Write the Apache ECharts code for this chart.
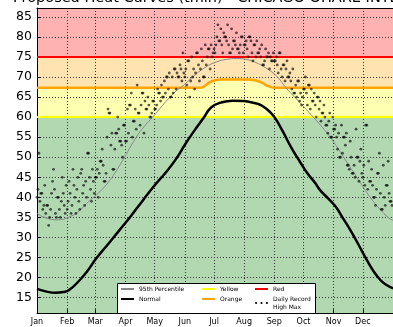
<!DOCTYPE html>
<html><head><meta charset="utf-8">
<script src="https://cdn.jsdelivr.net/npm/echarts@6/dist/echarts.min.js"></script>
<style>html,body{margin:0;padding:0;background:#fff}#c{width:393px;height:327px}</style>
</head><body><div id="c"></div>
<script>
// ---- data ----
const titleText = 'Proposed Heat Curves (tmin) - CHICAGO OHARE INTL AP';
const monthLabels = ['Jan','Feb','Mar','Apr','May','Jun','Jul','Aug','Sep','Oct','Nov','Dec'];
const monthStartDays = [0,31,60,91,121,152,182,213,244,274,305,335];
const yTicks = [15,20,25,30,35,40,45,50,55,60,65,70,75,80,85];
const yMin = 11.1, yMax = 87.2, dayMax = 366;
const yellowLevel = 60;
const redLevel = 75;
// [day, value]
const normal = [[0,17.2],[10,16.5],[19,16.2],[27,16.4],[33,16.9],[44,19.4],[52,21.7],[61,24.8],[73,28.3],[85,31.9],[97,35.5],[109,39.3],[121,43],[133,46.4],[143,49.6],[153,53.5],[162,56.7],[171,59.7],[179,62.4],[189,63.6],[201,64.1],[212,64],[220,63.7],[227,63.3],[233,62.6],[239,61.4],[245,59.7],[253,56.3],[261,52.6],[270,49],[278,46],[286,43.6],[291,41.8],[299,39.8],[307,37.7],[314,35],[322,31.9],[331,28],[339,24.4],[346,21.6],[353,19.4],[359,18.2],[366,17.3]];
const pct95 = [[0,36],[8,35],[20,34.4],[34,35.2],[45,37],[51,38.5],[59,40.2],[67,42],[75,44.3],[83,47.2],[90,50],[97,53],[104,55.7],[111,57.9],[119,60],[129,62.9],[136,64.8],[143,66.5],[150,67.8],[160,70],[173,72.4],[185,73.8],[195,74.4],[205,74.6],[215,74.4],[225,73.6],[233,72.6],[240,71.5],[248,69.8],[256,67.3],[270,63.7],[284,60],[295,57],[305,53.8],[315,50.1],[328,45.3],[342,40.2],[352,37.2],[362,34.8],[366,34.3]];
const orangeCurve = [[0,67.3],[168,67.3],[172,67.7],[177,68.6],[183,69.2],[190,69.4],[215,69.4],[224,69.2],[231,68.6],[237,67.8],[244,67.3],[366,67.3]];
const recJan = [40,42,51,39,41,41,37,38,43,36,38,38,33,35,37,41,44,47,42,36,35,40,40,37,35,39,45,41,38,36,43];
const recFeb = [37,39,44,41,36,38,47,43,40,36,42,45,39,37,46,47,41,43,38,44,40,51,51,45,42,39,47,44,41];
const recMar = [45,45,47,40,46,49,49,52,48,44,44,46,55,62,61,61,53,56,47,47,52,56,56,60,57,54,54,53,50,58,58];
const recApr = [54,54,62,56,63,63,66,55,59,59,62,57,68,61,61,58,63,66,66,56,64,62,62,65,63,60,60,61,64,64];
const recMay = [62,62,63,67,66,66,64,68,65,65,69,66,70,70,67,71,65,65,70,66,72,72,67,71,70,70,73,72,69,76,71];
const recJun = [70,72,68,74,74,65,69,75,70,72,67,71,76,76,73,69,72,77,74,70,70,78,73,75,77,77,72,78,75,76];
const recJul = [77,76,78,80,83,79,79,82,78,76,81,80,80,79,83,78,76,76,82,77,79,79,78,81,77,77,76,78,80,80,76];
const recAug = [78,78,79,77,75,80,80,79,76,74,78,78,75,79,76,76,77,75,78,73,73,74,77,75,75,76,72,75,74,74,76];
const recSep = [74,74,75,73,71,76,76,72,70,73,73,69,72,74,70,70,71,69,67,72,66,66,68,65,69,69,64,66,63,65];
const recOct = [67,67,70,66,63,68,68,62,67,64,64,66,63,60,65,65,62,64,59,61,61,63,60,58,58,56,59,61,55,55,60];
const recNov = [57,57,58,55,52,56,50,50,58,51,55,55,53,56,48,48,47,54,50,46,46,48,45,57,50,50,44,49,52,46];
const recDec = [45,48,43,58,58,42,49,44,44,47,43,40,40,38,42,46,46,51,41,37,37,48,40,38,43,43,49,41,39,39,38];

// ---- build ----
const records = [].concat(recJan,recFeb,recMar,recApr,recMay,recJun,recJul,recAug,recSep,recOct,recNov,recDec)
  .map((v,i)=>[i,v]);
const flat = v => [[0,v],[dayMax,v]];
const FONT = 'DejaVu Sans';
const dotted = {color:'#333', type:[1,2], width:1};
const band = (color, data, z) => ({type:'line', data, symbol:'none', silent:true, z,
  lineStyle:{width:0, opacity:0}, areaStyle:{color, opacity:1, origin:'start'}});
const legendText = {fontSize:6, fontFamily:FONT, color:'#000', lineHeight:8};
const mkLegend = (names, left) => ({data:names, orient:'vertical', left, top:285, padding:0, itemGap:2,
  itemWidth:13, itemHeight:7, selectedMode:false, itemStyle:{opacity:0}, textStyle:legendText});

const chart = echarts.init(document.getElementById('c'), null, {renderer:'canvas'});
chart.setOption({
  animation:false,
  grid:{left:37, top:8, width:359, height:305.3},
  xAxis:[{type:'value', min:0, max:dayMax,
    axisLine:{show:true, onZero:false, lineStyle:{color:'#000', width:1}},
    axisTick:{show:true, inside:true, length:4, customValues:monthStartDays, lineStyle:{color:'#000'}},
    axisLabel:{customValues:monthStartDays, formatter:v=>monthLabels[monthStartDays.indexOf(v)],
      fontSize:8, color:'#000', margin:5, fontFamily:FONT},
    splitLine:{show:true, lineStyle:dotted}},
    {type:'value', position:'top', min:0, max:dayMax,
    axisLine:{show:true, onZero:false, lineStyle:{color:'#000', width:1}},
    axisTick:{show:false}, axisLabel:{show:false}, splitLine:{show:false}}],
  yAxis:{type:'value', min:yMin, max:yMax,
    axisLine:{show:true, onZero:false, lineStyle:{color:'#000', width:1}},
    axisTick:{show:true, inside:true, length:4, customValues:yTicks, lineStyle:{color:'#000'}},
    axisLabel:{customValues:yTicks, fontSize:12.5, color:'#000', margin:5, fontFamily:FONT},
    splitLine:{show:true, lineStyle:dotted}},
  legend:[
    mkLegend(['95th Percentile','Normal'], 120),
    mkLegend(['Yellow','Orange'], 201),
    {data:['Red',{name:'Daily Record\nHigh Max', icon:'path://M0,1a1,1 0 1,0 2,0a1,1 0 1,0 -2,0ZM5,1a1,1 0 1,0 2,0a1,1 0 1,0 -2,0ZM10,1a1,1 0 1,0 2,0a1,1 0 1,0 -2,0Z', itemStyle:{color:'#000', opacity:1}}],
     orient:'vertical', left:254, top:285, padding:0, itemGap:2,
     itemWidth:13, itemHeight:7, selectedMode:false, itemStyle:{opacity:0}, textStyle:legendText}
  ],
  graphic:[
    {type:'rect', z:3, shape:{x:117.5, y:283.5, width:198, height:30}, style:{fill:'#fff', stroke:'#000', lineWidth:1}},
    {type:'text', x:217, y:-2, style:{text:titleText, font:'14.5px "DejaVu Sans"', fill:'#000',
      align:'center', verticalAlign:'middle', textAlign:'center', textVerticalAlign:'middle'}}
  ],
  series:[
    band('#ffb2b2', flat(yMax), -4),
    band('#ffe4b2', flat(redLevel), -3),
    band('#ffffb2', orangeCurve, -2),
    band('#b2d8b2', flat(yellowLevel), -1),
    {name:'Yellow', type:'line', data:flat(yellowLevel), symbol:'none', z:3, lineStyle:{color:'#ffff00', width:2}, itemStyle:{color:'#ffff00'}},
    {name:'Orange', type:'line', data:orangeCurve, symbol:'none', smooth:0.4, z:3, lineStyle:{color:'#ffa500', width:2.5}, itemStyle:{color:'#ffa500'}},
    {name:'Red', type:'line', data:flat(redLevel), symbol:'none', z:3, lineStyle:{color:'#ff0000', width:2}, itemStyle:{color:'#ff0000'}},
    {name:'95th Percentile', type:'line', data:pct95, symbol:'none', smooth:0.5, z:4, lineStyle:{color:'#888888', width:1}, itemStyle:{color:'#888888'}},
    {name:'Normal', type:'line', data:normal, symbol:'none', smooth:0.5, z:4, lineStyle:{color:'#000', width:2.5}, itemStyle:{color:'#000'}},
    {name:'Daily Record\nHigh Max', type:'scatter', data:records, symbolSize:2.8, z:5, itemStyle:{color:'rgba(0,0,0,0.8)'}}
  ]
});
</script></body></html>
